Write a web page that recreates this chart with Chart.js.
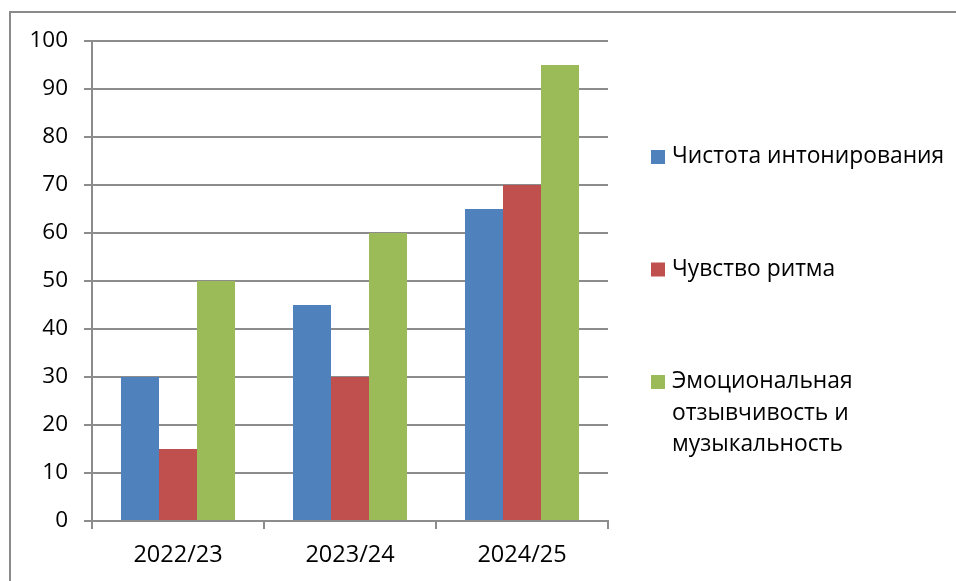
<!DOCTYPE html>
<html>
<head>
<meta charset="utf-8">
<script src="https://cdn.jsdelivr.net/npm/chart.js@4.4.0/dist/chart.umd.min.js"></script>
<style>
    body { margin: 0; background: #fff; }
    #wrap { position: relative; width: 956px; height: 581px; overflow: hidden; }
    #frame { position: absolute; left: 9px; top: 11px; width: 1000px; height: 1000px; border: 2px solid #8a8a8a; box-sizing: border-box; }
    canvas { position: absolute; left: 0; top: 0; }
</style>
</head>
<body>
<div id="wrap">
    <div id="frame"></div>
    <canvas id="chart" width="956" height="581"></canvas>
</div>
<script>
// Data
const years = ['2022/23', '2023/24', '2024/25'];
const seriesNames = ['Чистота интонирования', 'Чувство ритма', 'Эмоциональная отзывчивость и музыкальность'];
const purity = [30, 45, 65];
const rhythm = [15, 30, 70];
const emotion = [50, 60, 95];
const yTicks = [0, 10, 20, 30, 40, 50, 60, 70, 80, 90, 100];

const colors = ['#4F81BD', '#C0504D', '#9BBB59'];
const fontFamily = '"Open Sans", sans-serif';
const gridColor = '#8c8c8c';

// Legend drawn on the right, wrapping long names like the original
const sideLegend = {
    id: 'sideLegend',
    afterDraw(chart) {
        const ctx = chart.ctx;
        const boxX = 651, textX = 672, boxSize = 14, lineH = 31.5, maxW = 282;
        const firstY = 157, gap = 112.5;
        ctx.save();
        ctx.font = '22.8px ' + fontFamily;
        ctx.textBaseline = 'middle';
        ctx.textAlign = 'left';
        chart.data.datasets.forEach((ds, i) => {
            const y = firstY + i * gap;
            // wrap words
            const words = ds.label.split(' ');
            const lines = [];
            let cur = '';
            words.forEach(w => {
                const test = cur ? cur + ' ' + w : w;
                if (cur && ctx.measureText(test).width > maxW) {
                    lines.push(cur);
                    cur = w;
                } else {
                    cur = test;
                }
            });
            lines.push(cur);
            ctx.fillStyle = ds.backgroundColor;
            ctx.fillRect(boxX, y - boxSize / 2, boxSize, boxSize);
            ctx.fillStyle = '#000';
            lines.forEach((ln, j) => ctx.fillText(ln, textX, y + j * lineH));
        });
        ctx.restore();
    }
};

new Chart(document.getElementById('chart'), {
    type: 'bar',
    data: {
        labels: years,
        datasets: [purity, rhythm, emotion].map((vals, i) => ({
            label: seriesNames[i],
            data: vals,
            backgroundColor: colors[i],
            categoryPercentage: 0.663,
            barPercentage: 1.0
        }))
    },
    options: {
        responsive: false,
        animation: false,
        layout: { padding: { left: 0, right: 348, top: 41, bottom: 0 } },
        plugins: {
            legend: { display: false },
            tooltip: { enabled: false }
        },
        scales: {
            x: {
                afterFit: s => { s.height = 60; },
                grid: {
                    offset: true,
                    drawOnChartArea: false,
                    drawTicks: true,
                    tickLength: 8,
                    color: gridColor,
                    lineWidth: 2
                },
                border: { color: gridColor, width: 2 },
                ticks: {
                    color: '#000',
                    padding: 12,
                    font: { family: fontFamily, size: 23.5 }
                }
            },
            y: {
                min: 0,
                max: 100,
                afterFit: s => { s.width = 92; },
                afterBuildTicks: s => { s.ticks = yTicks.map(v => ({ value: v })); },
                grid: {
                    color: gridColor,
                    lineWidth: 2,
                    tickLength: 8
                },
                border: { color: gridColor, width: 2 },
                ticks: {
                    color: '#000',
                    padding: 16,
                    font: { family: fontFamily, size: 22.5 }
                }
            }
        }
    },
    plugins: [sideLegend]
});
</script>
</body>
</html>
